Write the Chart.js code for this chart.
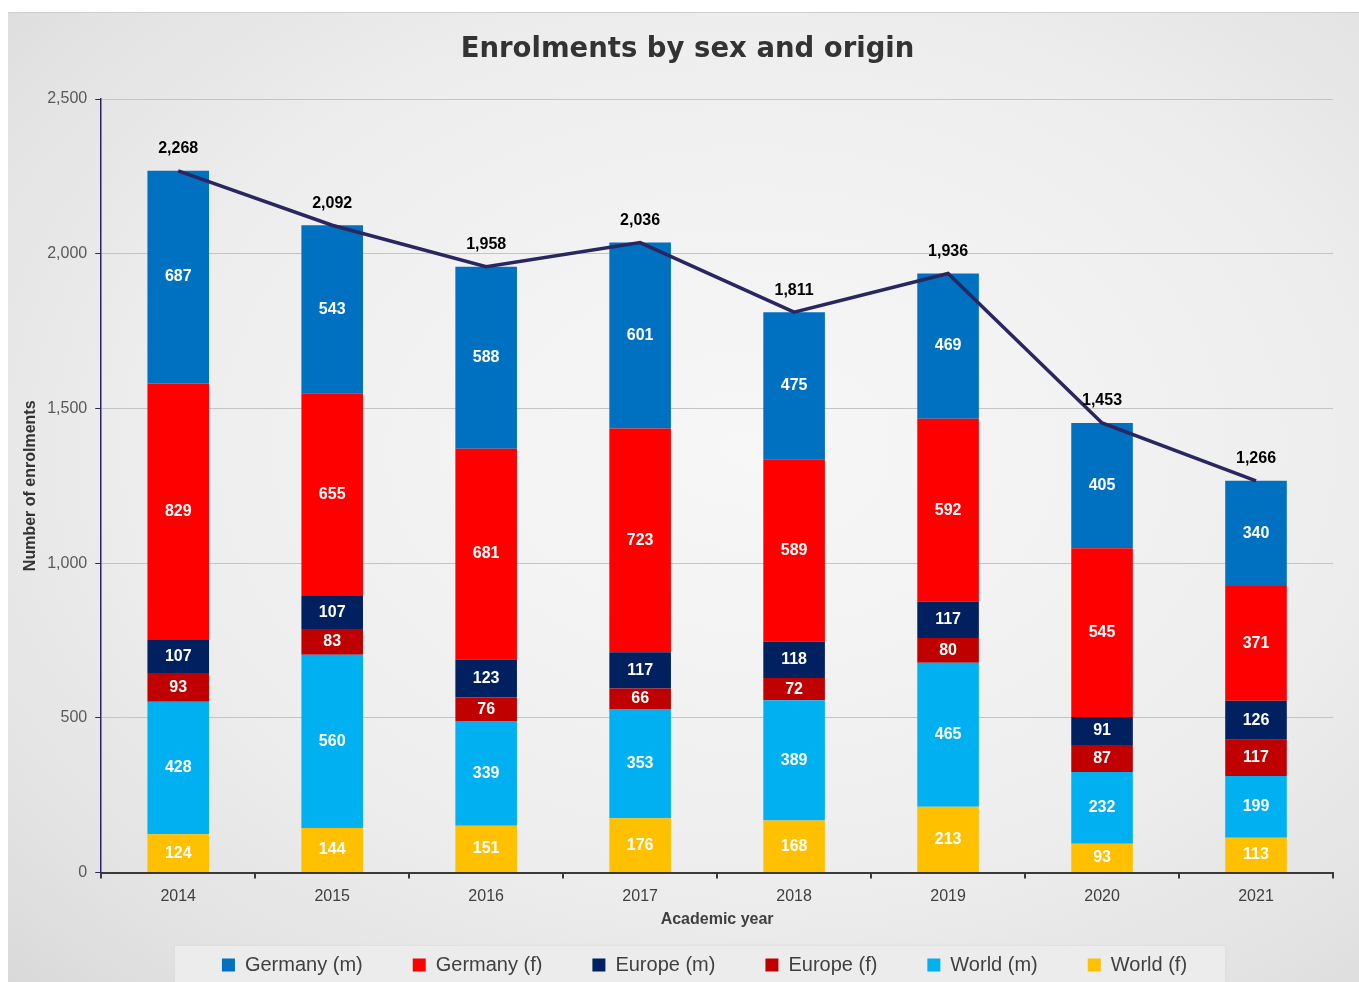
<!DOCTYPE html>
<html>
<head>
<meta charset="utf-8">
<script src="https://cdn.jsdelivr.net/npm/chart.js@4.4.1/dist/chart.umd.min.js"></script>
<style>
    html, body { margin: 0; padding: 0; background: #ffffff; overflow: hidden; }
    #frame {
        position: absolute; left: 8px; top: 12px; width: 1351px; height: 970px;
        background: radial-gradient(ellipse at 55% 45%, #f7f7f7 0%, #eeeeee 55%, #e2e2e2 85%, #d9d9d9 100%);
        border-top: 1px solid #cfcfcf;
    }
    #legend-box {
        position: absolute; left: 167px; top: 933px; width: 1050px; height: 40px;
        background: #ececec; box-shadow: 0 0 3px #d8d8d8;
    }
    #chart-wrap { position: absolute; left: 0; top: 0; width: 1351px; height: 970px; }
</style>
</head>
<body>
<div id="frame">
    <div id="legend-box"></div>
    <div id="chart-wrap"><canvas id="chart"></canvas></div>
</div>
<script>
    // Data
    const years = ['2014', '2015', '2016', '2017', '2018', '2019', '2020', '2021'];
    const germanyM = [687, 543, 588, 601, 475, 469, 405, 340];
    const germanyF = [829, 655, 681, 723, 589, 592, 545, 371];
    const europeM = [107, 107, 123, 117, 118, 117, 91, 126];
    const europeF = [93, 83, 76, 66, 72, 80, 87, 117];
    const worldM = [428, 560, 339, 353, 389, 465, 232, 199];
    const worldF = [124, 144, 151, 176, 168, 213, 93, 113];
    const totals = [2268, 2092, 1958, 2036, 1811, 1936, 1453, 1266];

    const FONT = "'Liberation Sans', Arial, sans-serif";
    const fmt = v => v.toLocaleString('en-US');

    // Value labels inside the bars and above the total line
    const labelPlugin = {
        id: 'valueLabels',
        afterDatasetsDraw(chart) {
            const ctx = chart.ctx;
            ctx.save();
            ctx.textAlign = 'center';
            ctx.textBaseline = 'middle';
            ctx.font = `bold 16px ${FONT}`;
            chart.data.datasets.forEach((ds, i) => {
                const meta = chart.getDatasetMeta(i);
                meta.data.forEach((el, j) => {
                    if (ds.type === 'line') {
                        ctx.fillStyle = '#000000';
                        ctx.fillText(fmt(ds.data[j]), el.x, el.y - 22);
                    } else {
                        ctx.fillStyle = '#ffffff';
                        ctx.fillText(fmt(ds.data[j]), el.x, (el.y + el.base) / 2);
                    }
                });
            });
            ctx.restore();
        }
    };

    // The legend needs wide gaps between items but a short box, and the
    // title/legend sit a little right of the canvas centre in the original
    const LEGEND_H = 40;
    const placement = {
        id: 'placement',
        beforeLayout(chart) {
            const lg = chart.legend;
            if (lg && !lg._shortFit) {
                const fit = lg.fit.bind(lg);
                lg.fit = function () { fit(); this.height = LEGEND_H; };
                lg._shortFit = true;
            }
        },
        afterLayout(chart) {
            const lg = chart.legend;
            if (lg) {
                lg.left += 32;
                lg.right += 32;
                lg.top = 892;
                lg.bottom = chart.height;
                lg.height = lg.bottom - lg.top;
            }
            if (chart.titleBlock) {
                chart.titleBlock.left += 15;
                chart.titleBlock.right += 15;
            }
        }
    };

    const barSet = (label, data, color) => ({
        type: 'bar', label, data, backgroundColor: color, borderWidth: 0, order: 1,
        categoryPercentage: 0.4, barPercentage: 1
    });

    new Chart(document.getElementById('chart'), {
        data: {
            labels: years,
            datasets: [
                barSet('World (f)', worldF, '#ffc000'),
                barSet('World (m)', worldM, '#00b0f0'),
                barSet('Europe (f)', europeF, '#c00000'),
                barSet('Europe (m)', europeM, '#002060'),
                barSet('Germany (f)', germanyF, '#ff0000'),
                barSet('Germany (m)', germanyM, '#0070c0'),
                {
                    type: 'line', label: 'Total', data: totals, order: 0,
                    borderColor: '#2a2760', borderWidth: 3.5, pointRadius: 0, tension: 0, fill: false
                }
            ]
        },
        options: {
            responsive: true,
            maintainAspectRatio: false,
            animation: false,
            events: [],
            layout: { padding: { top: 0, left: 4, right: 26, bottom: 14 } },
            scales: {
                x: {
                    stacked: true,
                    grid: { offset: true, drawOnChartArea: false, drawTicks: true, tickLength: 6, tickColor: '#3a3a3a', lineWidth: 2 },
                    border: { color: '#3a3a3a', width: 2 },
                    ticks: { color: '#404040', font: { family: FONT, size: 16 }, padding: 8 },
                    title: { display: true, text: 'Academic year', color: '#404040', font: { family: FONT, size: 16, weight: 'bold' }, padding: { top: -4, bottom: 0 } }
                },
                y: {
                    stacked: true,
                    min: 0, max: 2500,
                    grid: { color: '#c4c4c4', lineWidth: 1, tickColor: '#2a2760', tickLength: 6 },
                    border: { color: '#2a2760', width: 1.5 },
                    ticks: { stepSize: 500, color: '#595959', font: { family: FONT, size: 16 }, padding: 8, callback: v => fmt(v) },
                    title: { display: true, text: 'Number of enrolments', color: '#333333', font: { family: FONT, size: 16, weight: 'bold' }, padding: { top: 9, bottom: -1 } }
                }
            },
            plugins: {
                title: {
                    display: true, text: 'Enrolments by sex and origin', color: '#333333',
                    font: { family: "'DejaVu Sans', Verdana, sans-serif", size: 27.5, weight: 'bold' },
                    padding: { top: 20, bottom: 33 }
                },
                legend: {
                    position: 'bottom',
                    reverse: true,
                    labels: {
                        filter: item => item.text !== 'Total',
                        boxWidth: 13, boxHeight: 13, padding: 50,
                        color: '#404040', font: { family: FONT, size: 20 }
                    }
                },
                tooltip: { enabled: false }
            }
        },
        plugins: [labelPlugin, placement]
    });
</script>
</body>
</html>
